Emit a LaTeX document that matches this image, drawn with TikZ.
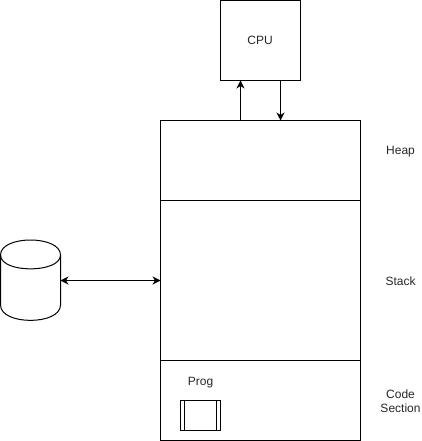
\documentclass[tikz,border=0pt]{standalone}
\usepackage{fontspec}
\setmainfont{Liberation Sans}
\usetikzlibrary{arrows.meta}
\tikzset{
  px/.style={x=1bp,y=-1bp,line width=1bp},
  boxnode/.style={draw=black,line width=1bp,rectangle,inner sep=0pt,outer sep=0pt,anchor=north west},
  lbl/.style={inner sep=0pt,outer sep=0pt,anchor=base,align=center,text=black!85,font=\fontsize{12bp}{14bp}\selectfont},
  link/.style={line width=1bp,draw=black},
  tip/.style={-{Stealth[length=8bp,width=8bp,inset=2.5bp]}},
  twotip/.style={{Stealth[length=8bp,width=8bp,inset=2.5bp]}-{Stealth[length=8bp,width=8bp,inset=2.5bp]}}
}
\begin{document}
\begin{tikzpicture}[px]
\useasboundingbox (0,0) rectangle (421,441);
\node[boxnode,minimum width=80bp,minimum height=80bp] (cpu) at (220.5,0.5) {};
\node[lbl] (cputxt) at (260,45) {CPU};
\node[boxnode,minimum width=200bp,minimum height=80bp] (heap) at (160.5,120.5) {};
\node[boxnode,minimum width=200bp,minimum height=160bp] (stack) at (160.5,200.5) {};
\node[boxnode,minimum width=200bp,minimum height=79.5bp] (code) at (160.5,360.5) {};
\node[boxnode,minimum width=40bp,minimum height=30bp] (prog) at (180.5,400.5) {};
\draw[link] ([xshift=4bp]prog.north west) -- ([xshift=4bp]prog.south west);
\draw[link] ([xshift=-4bp]prog.north east) -- ([xshift=-4bp]prog.south east);
\node[lbl] (progtxt) at (200.5,385) {Prog};
\node[lbl] (heaptxt) at (400.5,155) {Heap};
\node[lbl] (stacktxt) at (400.5,285) {Stack};
\node[lbl] (codetxt) at (400.5,398) {Code};
\node[lbl] (sectxt) at (400.5,412) {Section};
% disk
\node[inner sep=0pt,outer sep=0pt,minimum width=60bp,minimum height=80bp,anchor=north west] (disk) at (0.5,240.5) {};
\draw[line width=1bp,draw=black]
  (0.5,255) .. controls (0.5,235) and (60.5,235) .. (60.5,255)
  -- (60.5,305) .. controls (60.5,325.5) and (0.5,325.5) .. (0.5,305) -- cycle;
\draw[line width=1bp,draw=black]
  (0.5,255) .. controls (0.5,273.5) and (60.5,273.5) .. (60.5,255);
% connectors
\draw[link,twotip] (disk.east) -- (disk.east -| stack.west);
\coordinate (upt) at ([xshift=20bp]cpu.south west);
\coordinate (dnt) at ([xshift=-20bp]cpu.south east);
\draw[link,tip] (upt |- heap.north) -- (upt);
\draw[link,tip] (dnt) -- (dnt |- heap.north);
\end{tikzpicture}
\end{document}
